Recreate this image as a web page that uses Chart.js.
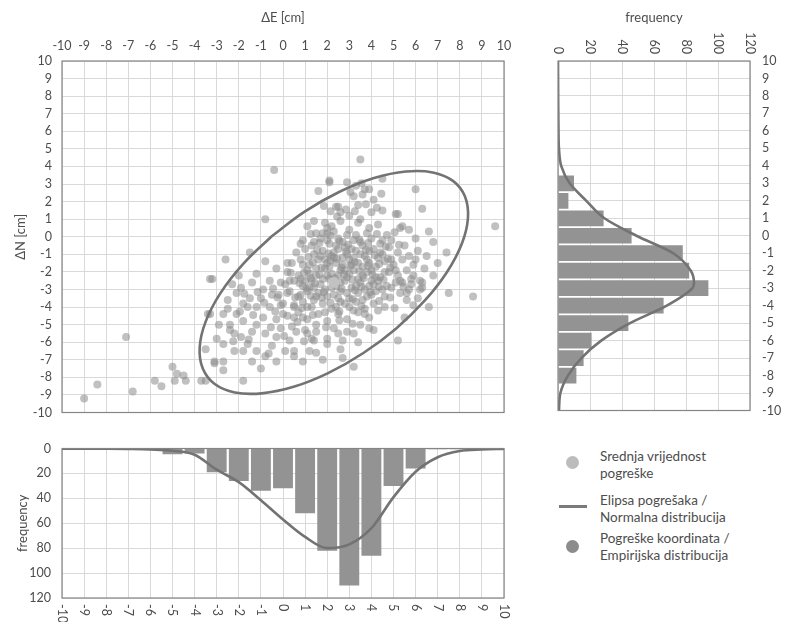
<!DOCTYPE html>
<html>
<head>
<meta charset="utf-8">
<script src="https://cdn.jsdelivr.net/npm/chart.js@4"></script>
<style>
  body { margin: 0; background: #fff; }
  #wrap { position: relative; width: 786px; height: 622px; overflow: hidden; font-family: Lato, "DejaVu Sans", sans-serif; color: #4d4d4d; }
  canvas { position: absolute; }
  #legend { position: absolute; left: 555px; top: 445px; width: 231px; font-size: 13.5px; line-height: 17px; }
  .item { position: absolute; left: 45px; white-space: nowrap; }
  .dot { position: absolute; width: 13px; height: 13px; border-radius: 50%; }
</style>
</head>
<body>
<div id="wrap">
  <canvas id="main" width="520" height="430" style="left:0;top:0"></canvas>
  <canvas id="right" width="256" height="430" style="left:530px;top:0"></canvas>
  <canvas id="bottom" width="520" height="192" style="left:0;top:430px"></canvas>
  <div id="legend">
    <div class="dot" style="left:11px;top:11px;background:#bcbcbc"></div>
    <div class="item" style="top:3px">Srednja vrijednost<br>pogreške</div>
    <div style="position:absolute;left:4px;top:60px;width:28px;height:3px;background:#7a7a7a"></div>
    <div class="item" style="top:47px">Elipsa pogrešaka /<br>Normalna distribucija</div>
    <div class="dot" style="left:11px;top:95px;background:#8c8c8c"></div>
    <div class="item" style="top:85px">Pogreške koordinata /<br>Empirijska distribucija</div>
  </div>
</div>
<script>
// coordinate errors [dE, dN] in cm
const coordErrors = [
  [-9.0,-9.2],[-8.4,-8.4],[-6.8,-8.8],[-7.1,-5.7],[-5.8,-8.2],[-5.5,-8.5],[-5.0,-7.4],[-4.9,-8.2],[-4.8,-7.8],[-4.5,-7.9],
  [-4.4,-8.2],[-3.7,-8.2],[-3.5,-8.2],[-3.5,-6.4],[-3.1,-7.2],[-3.4,-4.4],[-3.3,-2.4],[-2.6,-1.3],[-1.5,-0.9],[-0.8,1.0],
  [-0.4,3.8],[3.5,4.4],[9.6,0.6],[8.6,-3.4],[7.5,-3.2],[7.4,-0.9],[6.8,-0.3],[6.6,0.3],[6.3,1.6],[6.0,2.7],
  [4.5,3.3],[2.1,3.2],[1.6,2.6],[6.6,-4.0],[5.2,-5.9],[3.2,-7.4],[-1.8,-8.2],
  [-2.7,-6.1],[-3.1,-7.1],[-2.7,-7.1],[-2.7,-7.6],[-1.4,-7.1],[-1.0,-7.5],[-0.8,-6.8],[-0.3,-7.1],[0.5,-6.8],
  [0.9,-7.1],[0.5,-6.5],[1.2,-6.5],[1.5,-6.6],[1.4,-5.9],[1.5,-5.4],[1.1,-5.5],[2.5,-5.5],[3.2,-5.5],[2.7,-6.9],
  [3.9,-5.2],[0.3,-5.9],[-0.3,-5.7],[-0.8,-5.5],[-1.4,-5.4],[-1.9,-5.7],[-1.8,-6.5],[-2.4,-5.0],[-2.4,-5.3],[-2.2,-5.5],
  [-1.8,-4.8],[-1.2,-5.0],[-0.9,-4.6],[-0.3,-4.7],[0.0,-4.4],[0.5,-4.6],[0.9,-4.6],[-1.6,-4.0],[-1.2,-4.0],[-0.6,-4.0],
  [-0.1,-3.9],[0.5,-3.9],[1.1,-4.0],[-1.5,-3.5],[-1.0,-3.5],[-0.5,-3.3],[0.2,-3.2],[0.8,-3.3],[1.2,-2.9],[-2.1,-3.2],
  [-2.3,-2.7],[-2.0,-2.2],[-1.2,-2.1],[-0.6,-2.5],[-0.1,-2.6],[0.3,-2.5],[0.8,-2.4],[-3.2,-2.4],[-2.7,-4.4],[-3.3,-4.4],
  [-2.9,-5.0],[-3.0,-5.8],[-2.2,-6.5],[-1.6,-6.1],[-0.5,-6.2],[0.1,-6.5],[-0.9,-3.0],[-1.8,-3.8],[-2.5,-3.6],[-1.4,-2.6],
  [-0.3,-1.8],[0.2,-1.5],[-0.8,-1.4],[-2.1,-4.4],[-1.2,-6.5],[-0.1,-5.2],[0.6,-5.4],[2.0,-5.8],[-2.5,-4.1],[-1.9,-2.9],
  [0.8,-0.4],[1.4,-0.3],[1.4,0.9],[2.4,1.7],[2.0,0.5],[2.0,0.2],
  [2.9,3.1],[2.1,3.1],[3.3,2.9],[3.7,2.7],[3.9,2.7],[4.1,2.1],[3.6,2.4],[3.2,2.3],[3.4,1.8],[2.5,1.7],
  [4.5,1.5],[4.0,1.4],[5.1,1.3],[5.2,1.3],[5.4,0.6],[5.7,0.4],[6.0,-0.1],[3.0,1.2],[2.6,1.4],[3.5,1.0],
  [6.2,-3.0],[6.1,-3.5],[5.6,-3.2],[5.4,-2.6],[5.8,-2.4],[6.3,-2.6],[5.5,-4.6],
  [1.1,0.6],[1.5,0.2],[1.9,0.8],[2.3,0.3],[2.6,0.9],[3.0,0.4],[3.4,0.8],[3.8,0.2],[4.3,0.7],[4.7,0.1],[5.3,0.5],
  [0.9,-0.2],[1.3,-0.5],[1.7,-0.1],[2.1,-0.4],[2.5,-0.1],[2.8,-0.6],[3.2,-0.2],[3.6,-0.5],[4.0,-0.1],[4.4,-0.4],[4.9,-0.2],[5.5,-0.5],
  [0.6,-0.9],[1.0,-0.7],[1.4,-1.0],[1.8,-0.8],[2.2,-1.1],[2.5,-0.7],[2.9,-1.0],[3.3,-0.8],[3.7,-1.1],[4.1,-0.7],[4.5,-1.0],[4.8,-0.6],[5.2,-0.9],[5.7,-1.1],[6.1,-0.8],
  [0.4,-1.5],[0.8,-1.3],[1.2,-1.6],[1.6,-1.3],[2.0,-1.5],[2.3,-1.2],[2.7,-1.6],[3.0,-1.3],[3.4,-1.5],[3.8,-1.3],[4.2,-1.7],[4.6,-1.4],[5.0,-1.6],[5.4,-1.3],[5.9,-1.6],
  [0.2,-2.0],[0.7,-2.2],[1.1,-1.9],[1.5,-2.2],[1.9,-1.8],[2.2,-2.1],[2.6,-1.9],[2.9,-2.3],[3.2,-1.9],[3.6,-2.2],[4.0,-1.9],[4.4,-2.3],[4.8,-2.0],[5.2,-2.2],[5.6,-1.9],
  [0.1,-2.7],[0.5,-2.5],[0.9,-2.8],[1.3,-2.5],[1.7,-2.7],[2.1,-2.4],[2.4,-2.8],[2.8,-2.5],[3.1,-2.9],[3.5,-2.6],[3.9,-2.8],[4.3,-2.5],[4.7,-2.8],[5.1,-2.6],[5.8,-2.7],
  [-0.2,-3.3],[0.3,-3.1],[0.7,-3.4],[1.1,-3.1],[1.5,-3.4],[1.9,-3.0],[2.3,-3.3],[2.6,-3.1],[3.0,-3.5],[3.4,-3.2],[3.8,-3.4],[4.2,-3.1],[4.6,-3.4],[5.3,-3.2],
  [0.0,-3.8],[0.5,-4.0],[0.9,-3.7],[1.3,-4.0],[1.8,-3.8],[2.2,-4.1],[2.6,-3.7],[3.0,-4.0],[3.3,-3.7],[3.7,-4.1],[4.1,-3.8],[4.6,-4.0],
  [0.2,-4.5],[0.7,-4.3],[1.1,-4.7],[1.6,-4.4],[2.0,-4.8],[2.5,-4.4],[2.9,-4.7],[3.4,-4.3],[3.9,-4.6],
  [0.4,-5.1],[1.0,-5.3],[1.5,-5.0],[2.3,-5.2],[2.9,-5.4],[3.5,-5.0],[4.1,-5.3],
  [1.3,-5.8],[2.0,-6.1],[2.7,-5.9],[3.4,-6.0],[2.6,-6.4],[1.8,-7.0],
  [2.0,-0.2],[2.4,-0.5],[2.7,-0.3],[3.1,-0.7],[3.5,-0.3],[3.9,-0.8],[4.3,-1.2],[3.6,-1.7],[3.2,-1.2],[2.8,-1.9],
  [2.4,-1.5],[2.0,-2.2],[1.7,-1.1],[3.0,-2.1],[3.4,-2.4],[3.8,-2.0],[4.2,-2.3],[4.6,-2.0],[2.6,-2.6],[2.2,-2.9],
  [1.8,-2.4],[1.4,-2.9],[3.3,-2.8],[3.7,-3.0],[4.1,-2.7],[2.9,-3.2],[2.5,-3.5],[2.0,-3.4],[1.6,-3.2],[3.6,-3.6],
  [4.0,-3.3],[2.7,-1.2],[2.3,-0.9],[1.9,-1.3],[3.9,-1.5],[4.4,-0.9],[4.9,-1.3],[5.1,-1.9],[5.3,-2.5],[4.9,-2.9],
  [4.5,-3.0],[3.1,-1.6],[2.5,-2.2],[1.2,-2.1],[0.9,-1.6],[1.5,-1.8],[3.3,0.1],[2.9,0.1],[3.9,0.5],[4.5,-0.2],
  [2.2,0.6],[1.8,0.2],[4.0,-2.5],[3.5,-1.0],[2.1,-1.7],[1.0,-2.5],[1.4,-3.6],[2.8,-3.8],[3.2,-4.2],[2.4,-4.0],
  [1.9,-4.3],[3.7,-4.4],[4.3,-4.2],
  [6.0,-1.3],[6.4,-1.8],[6.8,-2.2],[6.2,-2.5],[5.7,-3.0],[5.9,-3.9],[6.5,-1.1],[7.0,-1.5],[5.9,-2.2],[6.3,-2.9],[5.6,-3.6],
  [1.25,0.15],[1.65,-0.35],[2.15,0.05],[2.55,-0.25],[2.95,-0.45],[3.45,-0.15],[3.85,-0.35],[4.25,0.15],[4.65,-0.55],[5.05,0.25],
  [1.15,-1.15],[1.55,-0.75],[2.05,-0.95],[2.45,-1.25],[2.85,-0.85],[3.25,-1.45],[3.75,-0.75],[4.15,-1.05],[4.75,-1.25],[5.25,-0.45],
  [0.95,-2.05],[1.35,-1.45],[1.75,-1.75],[2.15,-1.35],[2.65,-1.75],[3.05,-1.65],[3.45,-1.95],[3.85,-1.65],[4.35,-1.55],[4.85,-1.75],
  [0.75,-2.65],[1.25,-2.35],[1.65,-2.15],[2.35,-2.35],[2.75,-2.15],[3.15,-2.45],[3.65,-2.35],[4.05,-2.15],[4.55,-2.45],[5.45,-2.85],
  [0.55,-3.45],[1.05,-2.95],[1.45,-2.65],[1.85,-3.15],[2.25,-2.65],[2.65,-2.95],[3.25,-3.05],[3.55,-2.85],[3.95,-3.15],[4.35,-2.85],
  [0.85,-4.05],[1.25,-3.35],[1.75,-3.45],[2.15,-3.75],[2.55,-4.25],[3.15,-3.55],[3.55,-3.95],[4.35,-3.65],[4.85,-3.45],[5.05,-4.05],
  [2.45,1.15],[2.85,1.55],[3.25,1.45],[3.75,1.85],[4.25,1.65],[2.15,1.45],[3.05,2.55],[4.45,2.45],[1.85,1.75],[3.55,3.05],
  [1.95,-5.15],[2.55,-4.75],[3.15,-4.95],[1.35,-4.45],[0.65,-4.85],[-0.35,-4.25],[-0.85,-3.75],[-1.35,-4.45],[0.05,-5.65],[-0.55,-5.15],
  [-1.95,-4.25],[-2.25,-5.95],[-0.65,-6.65],[-1.55,-5.85],[0.95,-5.95],[-0.25,-3.45],[0.35,-2.05],[-0.45,-2.95],[-1.15,-3.15],[-1.75,-3.25]
];
const meanError = [2.3, -2.6];

// error ellipse outline [dE, dN]
const ellipseE = [-0.51, 0.98, 2.56, 4.12, 5.56, 6.78, 7.69, 8.23, 8.37, 8.10, 7.43, 6.41, 5.11, 3.62, 2.04, 0.48, -0.96, -2.18, -3.09, -3.63, -3.77, -3.50, -2.83, -1.81, -0.51];
const ellipseN = [0.03, 1.43, 2.56, 3.34, 3.71, 3.66, 3.18, 2.30, 1.09, -0.37, -1.99, -3.64, -5.23, -6.63, -7.76, -8.54, -8.91, -8.86, -8.38, -7.50, -6.29, -4.83, -3.21, -1.56, 0.03];

// dN histogram (right)
const rightBins = [3, 2, 1, 0, -1, -2, -3, -4, -5, -6, -7, -8];
const rightFreq = [10, 6.5, 28.5, 46, 78, 82, 94, 66, 44, 21, 16, 11.5];
const rightCurveN = [-10, -9, -8, -7, -6, -5, -4, -3, -2.7, -2, -1, 0, 1, 2, 3, 4, 5, 6, 8, 10];
const rightCurveFreq = [0.6, 1.5, 6.2, 14.6, 27, 45, 68, 84, 85, 83, 72, 49, 29, 17.7, 7.3, 2, 0.6, 0.3, 0.1, 0];

// dE histogram (bottom)
const bottomBins = [-9, -7, -5, -4, -3, -2, -1, 0, 1, 2, 3, 4, 5, 6, 7, 8];
const bottomFreq = [0.7, 0.5, 4.7, 4, 19, 26, 34, 32, 52, 82, 110, 86, 30, 16, 0.6, 0.6];
const bottomCurveE = [-10, -9, -8, -7, -6, -5, -4, -3, -2, -1, 0, 1, 2, 3, 4, 5, 6, 7, 8, 9, 10];
const bottomCurveFreq = [0.1, 0.1, 0.2, 0.4, 0.8, 1.8, 5, 17, 27, 41.5, 57, 71, 80, 77, 64, 39, 18.6, 7, 2, 0.8, 0.3];

const textGray = '#4d4d4d';
const gridGray = '#d9d9d9';
const lineGray = '#737373';
const barGray = '#939393';
const tickFont = { family: 'Lato, "DejaVu Sans"', size: 12.5 };
const titleFont = { family: 'Lato, "DejaVu Sans"', size: 13 };

const framePlugin = {
  id: 'frame',
  afterDraw(chart) {
    const { ctx, chartArea: a } = chart;
    ctx.save();
    ctx.strokeStyle = '#858585';
    ctx.lineWidth = 1.2;
    ctx.strokeRect(a.left, a.top, a.right - a.left, a.bottom - a.top);
    ctx.restore();
  }
};

// tick labels turned 90deg clockwise
const rotLabels = {
  id: 'rotLabels',
  afterDraw(chart, args, opts) {
    if (!opts.axis) return;
    const s = chart.scales[opts.axis];
    const ctx = chart.ctx;
    ctx.save();
    ctx.fillStyle = textGray;
    ctx.font = '12.5px Lato, "DejaVu Sans"';
    ctx.textBaseline = 'middle';
    s.ticks.forEach(t => {
      const x = s.getPixelForValue(t.value);
      ctx.save();
      if (opts.side === 'top') {
        ctx.translate(x, chart.chartArea.top - 7);
        ctx.textAlign = 'right';
      } else {
        ctx.translate(x, chart.chartArea.bottom + 6);
        ctx.textAlign = 'left';
      }
      ctx.rotate(Math.PI / 2);
      ctx.fillText(String(t.value), 0, 0);
      ctx.restore();
    });
    ctx.restore();
  }
};

const grid = { color: gridGray, drawTicks: false, offset: false };
const noPlugins = { legend: { display: false }, tooltip: { enabled: false } };

new Chart(document.getElementById('main'), {
  type: 'scatter',
  data: {
    datasets: [
      {
        data: ellipseE.map((e, i) => ({ x: e, y: ellipseN[i] })),
        showLine: true, tension: 0.4, borderColor: lineGray, borderWidth: 2.6, pointRadius: 0
      },
      {
        data: [{ x: meanError[0], y: meanError[1] }],
        backgroundColor: '#c2c2c2', pointRadius: 5.5, borderWidth: 0
      },
      {
        data: coordErrors.map(p => ({ x: p[0], y: p[1] })),
        backgroundColor: 'rgba(140,140,140,0.55)', pointRadius: 4, borderWidth: 0
      }
    ]
  },
  options: {
    responsive: false, animation: false,
    layout: { padding: { left: 0, right: 16, top: 0, bottom: 10 } },
    plugins: noPlugins,
    scales: {
      x: {
        type: 'linear', position: 'top', min: -10, max: 10,
        ticks: { stepSize: 1, autoSkip: false, maxRotation: 0, padding: 8, color: textGray, font: tickFont },
        grid: grid, border: { display: false },
        title: { display: true, text: 'ΔE [cm]', color: textGray, font: titleFont, padding: { top: 10 } },
        afterFit: s => { s.height = 61; }
      },
      y: {
        type: 'linear', min: -10, max: 10,
        ticks: { stepSize: 1, autoSkip: false, padding: 10, color: textGray, font: tickFont },
        grid: grid, border: { display: false },
        title: { display: true, text: 'ΔN [cm]', color: textGray, font: titleFont, padding: { top: 13 } },
        afterFit: s => { s.width = 62; }
      }
    }
  },
  plugins: [framePlugin]
});

new Chart(document.getElementById('right'), {
  type: 'bar',
  data: {
    datasets: [
      {
        type: 'line', indexAxis: 'y',
        data: rightCurveN.map((n, i) => ({ x: rightCurveFreq[i], y: n })),
        borderColor: lineGray, borderWidth: 2.6, pointRadius: 0, cubicInterpolationMode: 'monotone'
      },
      {
        type: 'bar',
        data: rightBins.map((n, i) => ({ x: rightFreq[i], y: n })),
        backgroundColor: barGray, barPercentage: 1, categoryPercentage: 0.9
      }
    ]
  },
  options: {
    indexAxis: 'y', responsive: false, animation: false,
    layout: { padding: { left: 28, right: 0, top: 0, bottom: 10 } },
    plugins: Object.assign({ rotLabels: { axis: 'x', side: 'top' } }, noPlugins),
    scales: {
      x: {
        type: 'linear', position: 'top', min: 0, max: 120,
        ticks: { stepSize: 20, display: false },
        grid: grid, border: { display: false },
        title: { display: true, text: 'frequency', color: textGray, font: titleFont, padding: { top: 10 } },
        afterFit: s => { s.height = 61; }
      },
      y: {
        type: 'linear', position: 'right', min: -10, max: 10, offset: false,
        ticks: { stepSize: 1, autoSkip: false, padding: 12, color: textGray, font: tickFont },
        grid: grid, border: { display: false },
        afterFit: s => { s.width = 36; }
      }
    }
  },
  plugins: [framePlugin, rotLabels]
});

new Chart(document.getElementById('bottom'), {
  type: 'bar',
  data: {
    datasets: [
      {
        type: 'line',
        data: bottomCurveE.map((e, i) => ({ x: e, y: bottomCurveFreq[i] })),
        borderColor: lineGray, borderWidth: 2.6, pointRadius: 0, cubicInterpolationMode: 'monotone'
      },
      {
        type: 'bar',
        data: bottomBins.map((e, i) => ({ x: e, y: bottomFreq[i] })),
        backgroundColor: barGray, barPercentage: 1, categoryPercentage: 0.9
      }
    ]
  },
  options: {
    responsive: false, animation: false,
    layout: { padding: { left: 0, right: 16, top: 16, bottom: 24 } },
    plugins: Object.assign({ rotLabels: { axis: 'x', side: 'bottom' } }, noPlugins),
    scales: {
      x: {
        type: 'linear', min: -10, max: 10, offset: false,
        ticks: { stepSize: 1, display: false },
        grid: grid, border: { display: false },
        afterFit: s => { s.height = 0; }
      },
      y: {
        type: 'linear', reverse: true, min: 0, max: 120,
        ticks: { stepSize: 20, padding: 11, color: textGray, font: tickFont },
        grid: grid, border: { display: false },
        title: { display: true, text: 'frequency', color: textGray, font: titleFont, padding: { top: 15 } },
        afterFit: s => { s.width = 62; }
      }
    }
  },
  plugins: [framePlugin, rotLabels]
});
</script>
</body>
</html>
